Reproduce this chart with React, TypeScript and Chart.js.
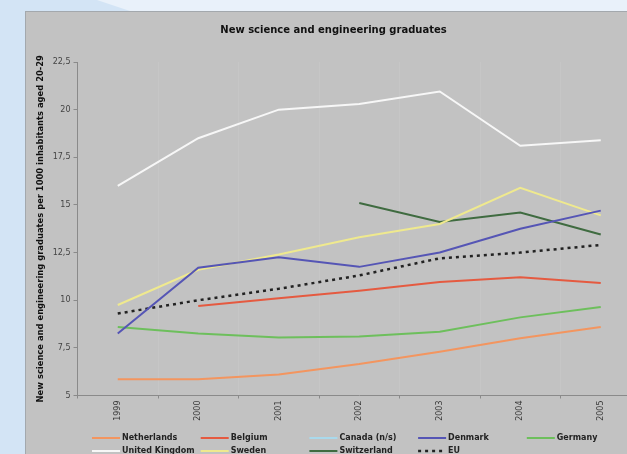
import React, { useEffect, useRef } from "react";
import { Chart, registerables } from "chart.js";

Chart.register(...registerables);

const years = ["1999", "2000", "2001", "2002", "2003", "2004", "2005"];
const netherlands = [5.85, 5.85, 6.1, 6.65, 7.3, 8.0, 8.6];
const belgium = [null, 9.7, 10.1, 10.5, 10.95, 11.2, 10.9];
const canada = [null, null, null, null, null, null, null];
const denmark = [8.25, 11.7, 12.25, 11.75, 12.5, 13.75, 14.7];
const germany = [8.6, 8.25, 8.05, 8.1, 8.35, 9.1, 9.65];
const unitedKingdom = [16.0, 18.5, 20.0, 20.3, 20.95, 18.1, 18.4];
const sweden = [9.75, 11.6, 12.4, 13.3, 14.0, 15.9, 14.45];
const switzerland = [null, null, null, 15.1, 14.1, 14.6, 13.45];
const eu = [9.3, 10.0, 10.6, 11.3, 12.2, 12.5, 12.9];

const seriesNames = [
  "Netherlands",
  "Belgium",
  "Canada (n/s)",
  "Denmark",
  "Germany",
  "United Kingdom",
  "Sweden",
  "Switzerland",
  "EU",
];

const FONT = '"DejaVu Sans", Verdana, sans-serif';

const gridLegend = {
  id: "gridLegend",
  afterDraw(chart: any) {
    const ctx = chart.ctx;
    const ds = chart.data.datasets;
    const cols = 5;
    const colW = 108.7;
    const x0 = 66;
    const rowY = [426, 439];
    const lineLen = 28;
    ctx.save();
    ctx.font = `bold 8px ${FONT}`;
    ctx.textBaseline = "middle";
    ctx.textAlign = "left";
    ds.forEach((d: any, i: number) => {
      const c = i % cols;
      const r = Math.floor(i / cols);
      const x = x0 + c * colW;
      const y = rowY[r];
      ctx.strokeStyle = d.borderColor;
      ctx.lineWidth = d.borderWidth;
      ctx.setLineDash(d.borderDash || []);
      ctx.beginPath();
      ctx.moveTo(x, y);
      ctx.lineTo(x + lineLen, y);
      ctx.stroke();
      ctx.setLineDash([]);
      ctx.fillStyle = "#222";
      ctx.fillText(d.label, x + lineLen + 2, y);
    });
    ctx.restore();
  },
};

export default function App() {
  const ref = useRef<HTMLCanvasElement>(null);

  useEffect(() => {
    if (!ref.current) return;
    const mk = (label: string, data: any[], color: string, extra: any = {}) => ({
      label,
      data,
      borderColor: color,
      backgroundColor: color,
      borderWidth: 2,
      pointRadius: 0,
      tension: 0,
      fill: false,
      spanGaps: false,
      ...extra,
    });
    const chart = new Chart(ref.current, {
      type: "line",
      data: {
        labels: years,
        datasets: [
          mk(seriesNames[0], netherlands, "#f3955f"),
          mk(seriesNames[1], belgium, "#e55a40"),
          mk(seriesNames[2], canada, "#a9d9ec"),
          mk(seriesNames[3], denmark, "#5555b5"),
          mk(seriesNames[4], germany, "#6dbf5c"),
          mk(seriesNames[5], unitedKingdom, "#f7f7f7"),
          mk(seriesNames[6], sweden, "#efe98e"),
          mk(seriesNames[7], switzerland, "#3f6b40"),
          mk(seriesNames[8], eu, "#222222", { borderDash: [3, 4], borderWidth: 2.5 }),
        ],
      },
      options: {
        responsive: false,
        animation: false,
        layout: { padding: 0 },
        plugins: {
          legend: { display: false },
          tooltip: { enabled: false },
          title: {
            display: true,
            text: "New science and engineering graduates",
            color: "#111",
            font: { family: FONT, size: 10, weight: "bold" },
            padding: { top: 12, bottom: 26 },
          },
        },
        scales: {
          x: {
            type: "category",
            offset: true,
            grid: {
              offset: true,
              color: "rgba(255,255,255,0.07)",
              tickColor: "#8a8a8a",
              tickLength: 3,
              drawOnChartArea: true,
            },
            border: { color: "#8a8a8a", width: 1 },
            ticks: {
              color: "#3a3a3a",
              font: { family: FONT, size: 8 },
              minRotation: 90,
              maxRotation: 90,
              autoSkip: false,
              padding: 2,
            },
            afterFit(scale: any) {
              scale.height = 58.5;
            },
          },
          y: {
            min: 5,
            max: 22.5,
            grid: {
              drawOnChartArea: false,
              tickColor: "#8a8a8a",
              tickLength: 4,
            },
            border: { color: "#8a8a8a", width: 1 },
            ticks: {
              stepSize: 2.5,
              color: "#444",
              font: { family: FONT, size: 8 },
              padding: 3,
              callback: (v: any) => String(v).replace(".", ","),
            },
            title: {
              display: true,
              text: "New science and engineering graduates per 1000 inhabitants aged 20-29",
              color: "#111",
              font: { family: FONT, size: 8.4, weight: "bold" },
              padding: { top: 10, bottom: 0 },
            },
            afterFit(scale: any) {
              scale.width = 51.5;
            },
          },
        },
      },
      plugins: [gridLegend],
    });
    return () => chart.destroy();
  }, []);

  return (
    <div
      style={{
        position: "absolute",
        left: 0,
        top: 0,
        width: 627,
        height: 454,
        overflow: "hidden",
        background: "#d3e4f5",
      }}
    >
      <div
        style={{
          position: "absolute",
          left: 0,
          top: 0,
          width: 627,
          height: 14,
          background: "#e9f1fa",
          clipPath: "polygon(97px 0, 627px 0, 627px 14px, 139px 14px)",
        }}
      />
      <div
        style={{
          position: "absolute",
          left: 25,
          top: 11,
          width: 610,
          height: 450,
          background: "#c2c2c2",
          borderTop: "1px solid #a3a8ad",
          borderLeft: "1px solid #a3a8ad",
        }}
      />
      <canvas
        ref={ref}
        width={615}
        height={442}
        style={{ position: "absolute", left: 26, top: 12, width: 615, height: 442 }}
      />
    </div>
  );
}
